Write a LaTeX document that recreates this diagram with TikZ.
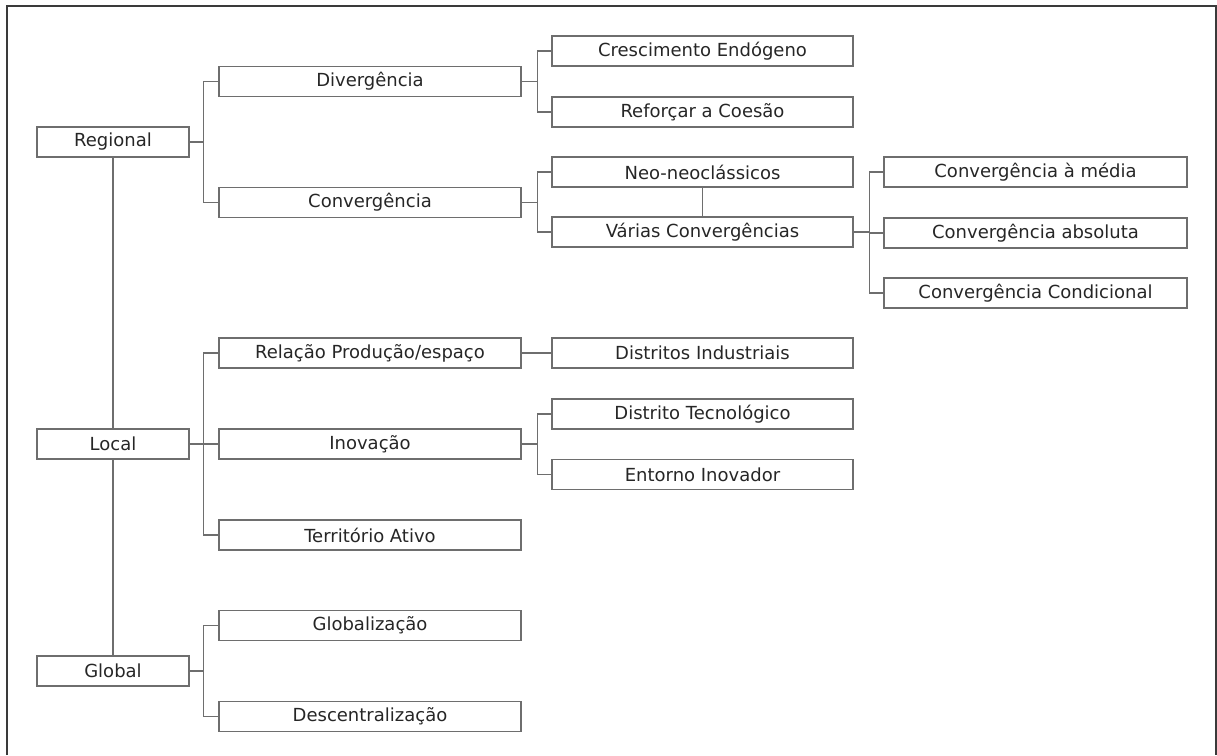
\documentclass[tikz,border=0pt]{standalone}
\usepackage{fontspec}
\setmainfont{DejaVu Sans}
\definecolor{ln}{HTML}{6E6E6E}
\definecolor{fr}{HTML}{3A3A3A}
\begin{document}
\begin{tikzpicture}[x=1pt,y=-1pt,
  box/.style={draw=ln,line width=1.1pt,rectangle,minimum height=30pt,inner sep=0pt,font=\fontsize{18}{21}\selectfont,text=black!85},
  b0/.style={box,minimum width=152pt},
  b1/.style={box,minimum width=302pt},
  b2/.style={box,minimum width=301pt},
  b3/.style={box,minimum width=303pt},
  con/.style={draw=ln,line width=1.1pt}]
\useasboundingbox (0,0) rectangle (1217,755);
\draw[fr,line width=1.6pt] (7,755) -- (7,6) -- (1216,6) -- (1216,755);
% level 0
\node[b0] (reg) at (113,142) {Regional};
\node[b0] (loc) at (113,444) {Local};
\node[b0] (glo) at (113,671) {Global};
% level 1
\node[b1] (div) at (370,81.5) {Divergência};
\node[b1] (conv) at (370,202.5) {Convergência};
\node[b1] (rel) at (370,353) {Relação Produção/espaço};
\node[b1] (ino) at (370,444) {Inovação};
\node[b1] (ter) at (370,535) {Território Ativo};
\node[b1] (glb) at (370,625.5) {Globalização};
\node[b1] (desc) at (370,716.5) {Descentralização};
% level 2
\node[b2] (cre) at (702.5,51) {Crescimento Endógeno};
\node[b2] (ref) at (702.5,112) {Reforçar a Coesão};
\node[b2] (neo) at (702.5,172) {Neo-neoclássicos};
\node[b2] (var) at (702.5,232) {Várias Convergências};
\node[b2] (dind) at (702.5,353) {Distritos Industriais};
\node[b2] (dtec) at (702.5,414) {Distrito Tecnológico};
\node[b2] (ent) at (702.5,474.5) {Entorno Inovador};
% level 3
\node[b3] (cmed) at (1035.5,172) {Convergência à média};
\node[b3] (cabs) at (1035.5,233) {Convergência absoluta};
\node[b3] (ccon) at (1035.5,293) {Convergência Condicional};
% connectors
\draw[con] (reg.south) -- (loc.north);
\draw[con] (loc.south) -- (glo.north);
\draw[con] (reg.east) -- ++(14,0) |- (div.west);
\draw[con] (reg.east) -- ++(14,0) |- (conv.west);
\draw[con] (loc.east) -- ++(14,0) |- (rel.west);
\draw[con] (loc.east) -- ++(14,0) |- (ino.west);
\draw[con] (loc.east) -- ++(14,0) |- (ter.west);
\draw[con] (glo.east) -- ++(14,0) |- (glb.west);
\draw[con] (glo.east) -- ++(14,0) |- (desc.west);
\draw[con] (div.east) -- ++(16,0) |- (cre.west);
\draw[con] (div.east) -- ++(16,0) |- (ref.west);
\draw[con] (conv.east) -- ++(16,0) |- (neo.west);
\draw[con] (conv.east) -- ++(16,0) |- (var.west);
\draw[con] (neo.south) -- (var.north);
\draw[con] (rel.east) -- (dind.west);
\draw[con] (ino.east) -- ++(16,0) |- (dtec.west);
\draw[con] (ino.east) -- ++(16,0) |- (ent.west);
\draw[con] (var.east) -- ++(16,0) |- (cmed.west);
\draw[con] (var.east) -- ++(16,0) |- (cabs.west);
\draw[con] (var.east) -- ++(16,0) |- (ccon.west);
\end{tikzpicture}
\end{document}
